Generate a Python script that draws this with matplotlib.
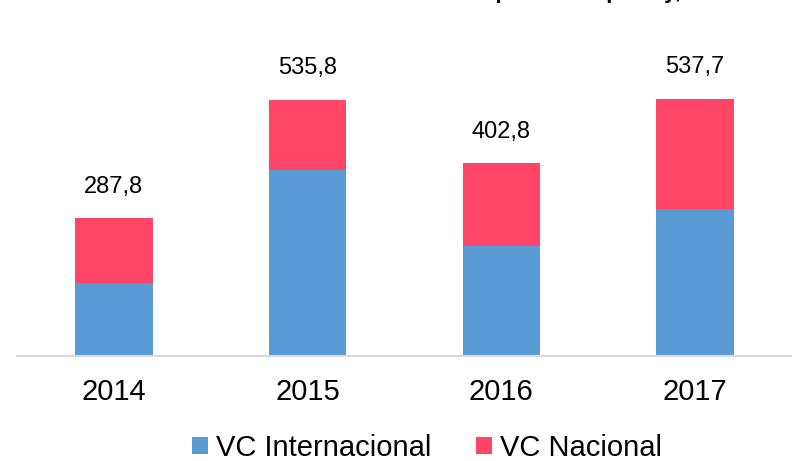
import matplotlib
matplotlib.use("Agg")
import matplotlib.pyplot as plt

plt.rcParams['font.family'] = ['Liberation Sans', 'DejaVu Sans']

# --- datos ---
anios = ['2014', '2015', '2016', '2017']
vc_internacional = [152.7, 389.0, 230.0, 307.5]
vc_nacional = [135.1, 146.8, 172.8, 230.2]
totales = ['287,8', '535,8', '402,8', '537,7']

azul = '#5B9BD5'
rojo = '#FF4667'

fig = plt.figure(figsize=(7.92, 4.61), dpi=100)
ax = fig.add_axes([17 / 792, 1 - 356 / 461, 1 - 17 / 792, 316 / 461])

x = range(len(anios))
ax.bar(x, vc_internacional, width=0.4, color=azul, label='VC Internacional')
ax.bar(x, vc_nacional, width=0.4, bottom=vc_internacional, color=rojo, label='VC Nacional')

# etiquetas de total encima de cada barra
for i, t in enumerate(totales):
    tot = vc_internacional[i] + vc_nacional[i]
    ax.text(i, tot + 66, t, ha='center', va='center', fontsize=17, color='#000000')

ax.set_xlim(-0.5, 3.5)
ax.set_ylim(0, 661)
ax.set_xticks(list(x))
ax.set_xticklabels(anios, fontsize=21)
ax.tick_params(axis='x', length=0, pad=16)
ax.set_yticks([])
for s in ['top', 'right', 'left']:
    ax.spines[s].set_visible(False)
ax.spines['bottom'].set_color('#D9D9D9')
ax.spines['bottom'].set_linewidth(1.5)

# titulo (recortado en el original)
fig.text(0.5, 1.0 + 0.016, 'Evolución de la inversión en Venture Capital en España y, €M',
         ha='center', va='center', fontsize=16, fontweight='bold')

ax.legend(loc='center', bbox_to_anchor=((427 - 17) / 775, -0.29), ncol=2, frameon=False,
          fontsize=21, handlelength=0.55, handleheight=0.55, handletextpad=0.3,
          columnspacing=1.5)

fig.savefig('out.png', dpi=100)
